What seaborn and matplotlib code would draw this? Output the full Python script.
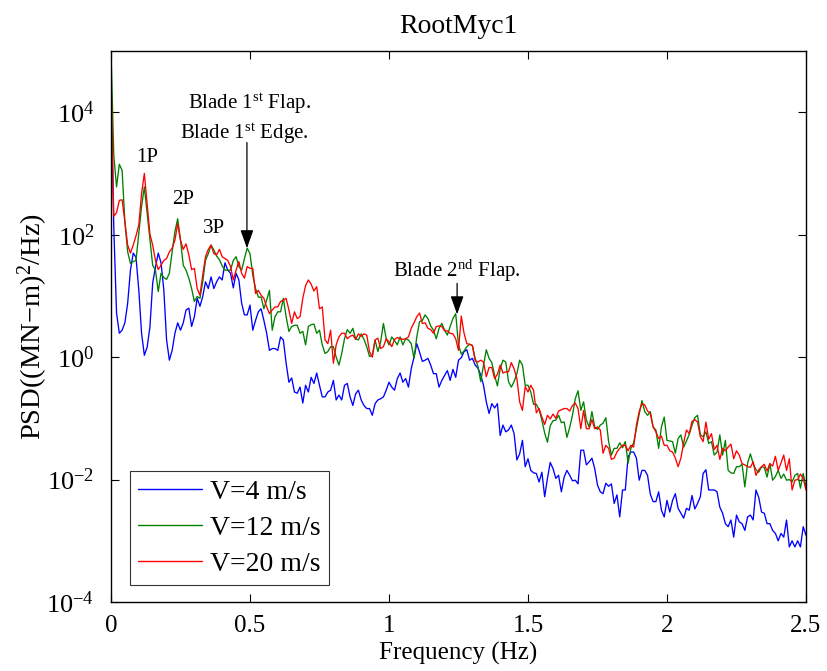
import numpy as np
import pandas as pd
import matplotlib
matplotlib.use("Agg")
import matplotlib.pyplot as plt
from matplotlib.ticker import NullLocator
import seaborn as sns

# Frequency bins of the spectra (Hz)
freq_hz = np.linspace(0.0, 2.5, 251)

# log10 of PSD, (MN-m)^2/Hz, one value per 0.01 Hz bin
psd_v4_log10 = [
    4.42, 2.13, 0.72, 0.39, 0.44, 0.56, 0.88, 1.42, 1.70, 1.63,
    1.10, 0.39, 0.03, 0.16, 0.49, 1.21, 1.47, 1.70, 1.54, 1.10,
    0.28, -0.05, 0.11, 0.39, 0.56, 0.44, 0.56, 0.77, 0.80, 0.50,
    0.66, 0.96, 0.83, 0.99, 1.23, 1.12, 1.31, 1.12, 1.23, 1.31,
    1.26, 1.54, 1.42, 1.37, 1.13, 1.37, 1.26, 0.88, 0.69, 0.69,
    0.85, 0.44, 0.60, 0.74, 0.79, 0.60, 0.39, 0.11, 0.14, 0.14,
    0.11, 0.33, 0.28, -0.10, -0.41, -0.34, -0.57, -0.59, -0.49, -0.75,
    -0.46, -0.57, -0.33, -0.43, -0.26, -0.46, -0.65, -0.65, -0.57, -0.54,
    -0.38, -0.70, -0.62, -0.70, -0.46, -0.43, -0.65, -0.79, -0.60, -0.54,
    -0.70, -0.79, -0.84, -0.84, -0.95, -0.76, -0.70, -0.68, -0.65, -0.54,
    -0.41, -0.49, -0.54, -0.35, -0.26, -0.41, -0.35, -0.49, -0.19, 0.00,
    0.22, 0.08, -0.07, -0.05, -0.02, -0.13, -0.27, -0.27, -0.49, -0.38,
    -0.30, -0.22, -0.38, -0.20, -0.33, -0.05, -0.01, 0.09, 0.12, -0.05,
    -0.02, -0.13, -0.18, -0.29, -0.46, -0.73, -0.92, -0.76, -0.83, -0.76,
    -1.28, -1.11, -1.22, -1.19, -1.11, -1.25, -1.68, -1.58, -1.36, -1.79,
    -1.66, -1.85, -1.89, -1.90, -2.04, -1.88, -2.28, -1.98, -1.72, -1.82,
    -1.98, -1.93, -2.20, -1.96, -1.85, -1.93, -2.02, -2.01, -2.07, -1.52,
    -1.52, -1.76, -1.71, -1.65, -1.82, -2.09, -2.20, -2.23, -2.06, -2.11,
    -2.07, -2.39, -2.25, -2.61, -2.17, -2.17, -1.63, -1.55, -1.55, -1.65,
    -2.01, -1.85, -1.85, -1.93, -2.24, -2.36, -2.36, -2.20, -2.50, -2.61,
    -2.34, -2.53, -2.34, -2.23, -2.47, -2.55, -2.63, -2.47, -2.50, -2.26,
    -2.48, -2.39, -2.28, -1.90, -1.84, -2.17, -2.17, -2.17, -2.20, -2.45,
    -2.55, -2.72, -2.77, -2.66, -2.94, -2.58, -2.69, -2.72, -2.83, -2.61,
    -2.58, -2.66, -2.17, -2.29, -2.53, -2.55, -2.72, -2.72, -2.83, -2.88,
    -3.00, -2.88, -2.94, -2.66, -3.10, -3.00, -3.10, -3.00, -3.10, -2.77,
    -2.91,
]
psd_v12_log10 = [
    5.00, 3.30, 2.78, 3.15, 3.05, 2.21, 1.72, 1.53, 1.56, 1.58,
    2.02, 2.46, 2.78, 2.35, 1.91, 1.50, 1.42, 1.07, 1.37, 1.30,
    1.27, 1.37, 1.72, 2.05, 2.26, 1.91, 1.50, 1.42, 1.29, 1.12,
    0.91, 0.99, 0.96, 1.23, 1.58, 1.69, 1.83, 1.75, 1.65, 1.59,
    1.49, 1.42, 1.42, 1.42, 1.58, 1.64, 1.48, 1.42, 1.61, 1.78,
    1.69, 1.34, 1.12, 0.98, 0.98, 0.79, 0.93, 1.09, 0.44, 0.66,
    0.74, 0.74, 0.96, 0.66, 0.42, 0.50, 0.52, 0.52, 0.39, 0.42,
    0.20, 0.50, 0.53, 0.54, 0.39, 0.44, 0.20, 0.06, 0.09, 0.17,
    0.17, 0.00, -0.13, 0.06, 0.30, 0.45, 0.39, 0.47, 0.30, 0.28,
    0.38, 0.29, 0.17, 0.01, 0.03, 0.28, 0.09, 0.25, 0.55, 0.30,
    0.20, 0.33, 0.27, 0.20, 0.33, 0.20, 0.30, 0.28, 0.22, -0.02,
    0.33, 0.58, 0.60, 0.69, 0.63, 0.51, 0.44, 0.30, 0.47, 0.55,
    0.44, 0.36, 0.50, 0.63, 0.71, 0.20, 0.05, 0.10, 0.17, 0.21,
    0.19, -0.02, -0.15, -0.40, -0.13, 0.12, -0.02, -0.09, -0.30, -0.47,
    -0.19, -0.05, -0.08, -0.40, -0.49, -0.40, -0.27, -0.05, -0.13, -0.46,
    -0.46, -0.57, -0.77, -0.77, -0.86, -1.03, -1.24, -1.39, -1.12, -1.04,
    -1.03, -0.95, -1.07, -1.06, -1.31, -1.15, -0.95, -0.68, -0.55, -0.87,
    -0.73, -1.03, -1.14, -0.89, -1.14, -1.18, -1.11, -1.08, -0.99, -1.38,
    -1.60, -1.49, -1.49, -1.40, -1.48, -1.38, -1.73, -1.49, -1.40, -1.17,
    -0.93, -0.71, -0.89, -0.95, -0.89, -1.14, -1.19, -1.49, -1.14, -0.98,
    -1.36, -1.37, -1.38, -1.57, -1.33, -1.27, -1.47, -1.37, -1.26, -1.11,
    -0.99, -0.95, -1.27, -1.30, -1.22, -1.41, -1.38, -1.60, -1.55, -1.27,
    -1.60, -1.36, -1.85, -1.89, -1.90, -1.79, -1.79, -1.75, -2.12, -1.73,
    -1.58, -1.74, -1.84, -1.88, -1.79, -1.80, -1.96, -1.74, -2.01, -1.95,
    -1.85, -1.98, -1.91, -2.01, -2.00, -2.04, -1.93, -1.90, -2.14, -1.90,
    -2.12,
]
psd_v20_log10 = [
    4.61, 2.30, 2.36, 2.56, 2.57, 2.21, 1.83, 1.70, 1.83, 1.98,
    2.16, 2.67, 3.00, 2.51, 2.01, 1.83, 1.58, 1.43, 1.50, 1.58,
    1.61, 1.72, 1.78, 1.91, 2.18, 1.91, 1.76, 1.85, 1.67, 1.43,
    1.45, 1.12, 1.01, 1.34, 1.64, 1.76, 1.83, 1.69, 1.67, 1.76,
    1.64, 1.61, 1.58, 1.48, 1.26, 1.42, 1.56, 1.37, 1.29, 1.48,
    1.45, 1.45, 1.04, 1.09, 1.01, 0.96, 0.82, 0.71, 0.77, 0.82,
    0.82, 0.91, 0.93, 0.96, 0.77, 0.55, 0.74, 0.63, 0.66, 0.96,
    1.17, 1.26, 1.19, 1.08, 1.15, 0.79, 0.82, 0.28, 0.22, 0.44,
    -0.10, 0.20, 0.33, 0.39, 0.39, 0.30, 0.34, 0.36, 0.29, 0.38,
    0.34, 0.38, 0.36, 0.09, 0.00, 0.28, 0.31, 0.14, 0.17, 0.30,
    0.25, 0.17, 0.29, 0.32, 0.30, 0.29, 0.30, 0.33, 0.47, 0.56,
    0.66, 0.72, 0.55, 0.56, 0.47, 0.45, 0.39, 0.50, 0.51, 0.50,
    0.43, 0.43, 0.39, 0.38, 0.30, 0.11, 0.67, 0.39, 0.22, 0.21,
    0.19, -0.06, -0.08, -0.05, -0.08, -0.32, -0.17, -0.17, -0.35, -0.28,
    -0.13, -0.26, -0.24, -0.24, -0.09, -0.19, -0.35, -0.73, -0.87, -0.48,
    -0.57, -0.46, -0.54, -0.91, -0.84, -0.98, -1.10, -0.95, -1.01, -0.93,
    -1.00, -0.88, -0.86, -0.84, -0.84, -0.88, -0.79, -0.75, -0.84, -1.17,
    -0.87, -1.17, -1.17, -1.02, -1.17, -1.14, -1.19, -1.57, -1.44, -1.49,
    -1.67, -1.65, -1.55, -1.49, -1.44, -1.44, -1.53, -1.44, -1.47, -1.11,
    -0.89, -0.76, -0.78, -0.88, -0.92, -1.14, -1.22, -1.33, -1.29, -1.44,
    -1.44, -1.53, -1.55, -1.65, -1.79, -1.65, -1.40, -1.19, -1.25, -1.05,
    -1.02, -1.06, -1.30, -1.38, -1.06, -1.34, -1.25, -1.51, -1.44, -1.67,
    -1.49, -1.53, -1.47, -1.42, -1.66, -1.53, -1.60, -1.74, -1.76, -1.79,
    -1.80, -1.71, -1.93, -1.84, -1.79, -1.75, -1.86, -1.74, -1.78, -1.62,
    -1.85, -1.73, -1.60, -1.85, -1.66, -2.17, -2.01, -2.00, -1.91, -1.98,
    -2.17,
]

series_labels = ["V=4 m/s", "V=12 m/s", "V=20 m/s"]
series_colors = ["#0000ff", "#008000", "#ff0000"]

x_ticks = [0, 0.5, 1, 1.5, 2, 2.5]
x_tick_labels = ["0", "0.5", "1", "1.5", "2", "2.5"]
y_ticks = [1e-4, 1e-2, 1e0, 1e2, 1e4]
y_tick_labels = [r"$10^{-4}$", r"$10^{-2}$", r"$10^{0}$", r"$10^{2}$", r"$10^{4}$"]

sns.set_theme(style="ticks")
plt.rcParams["font.family"] = ["Liberation Serif", "DejaVu Serif"]
plt.rcParams["mathtext.fontset"] = "custom"
plt.rcParams["mathtext.rm"] = "Liberation Serif"
plt.rcParams["mathtext.it"] = "Liberation Serif:italic"
plt.rcParams["mathtext.bf"] = "Liberation Serif:bold"
plt.rcParams["text.color"] = "black"
plt.rcParams["axes.labelcolor"] = "black"
plt.rcParams["xtick.color"] = "black"
plt.rcParams["ytick.color"] = "black"

frames = []
for vals, lab in zip([psd_v4_log10, psd_v12_log10, psd_v20_log10], series_labels):
    frames.append(pd.DataFrame({"freq": freq_hz,
                                "psd": np.power(10.0, np.asarray(vals)),
                                "series": lab}))
df = pd.concat(frames, ignore_index=True)

fig = plt.figure(figsize=(8.27, 6.71), dpi=100)
ax = fig.add_axes([0.1342, 0.1028, 0.8404, 0.8212])

sns.lineplot(data=df, x="freq", y="psd", hue="series", hue_order=series_labels,
             palette=dict(zip(series_labels, series_colors)),
             estimator=None, sort=False, linewidth=0.95, ax=ax)

ax.set_yscale("log")
ax.set_xlim(0, 2.5)
ax.set_ylim(1e-4, 1e5)
ax.set_xticks(x_ticks)
ax.set_xticklabels(x_tick_labels)
ax.set_yticks(y_ticks)
ax.set_yticklabels(y_tick_labels)
ax.yaxis.set_minor_locator(NullLocator())
ax.xaxis.set_minor_locator(NullLocator())
ax.tick_params(axis="both", which="major", direction="in", length=6, width=0.8,
               top=True, right=True, labelsize=18, pad=9)
ax.tick_params(axis="y", labelsize=19, pad=12)

for sp in ax.spines.values():
    sp.set_visible(True)
    sp.set_color("black")
    sp.set_linewidth(1.0)

ax.set_xlabel("Frequency (Hz)", fontsize=18, labelpad=4)
ax.set_ylabel(r"PSD((MN$-$m)$^2$/Hz)", fontsize=20.5)
ax.yaxis.set_label_coords(-0.088, 0.5)
ax.set_title("RootMyc1", fontsize=20, pad=13)

leg = ax.legend(loc="lower left", bbox_to_anchor=(0.027, 0.031), borderaxespad=0,
                fontsize=20, frameon=True, fancybox=False, edgecolor="black",
                handlelength=2.3, handletextpad=0.3, labelspacing=0.38,
                borderpad=0.3, title=None)
leg.get_frame().set_linewidth(0.8)
for line in leg.get_lines():
    line.set_linewidth(1.0)

# Harmonic and blade-mode labels
ann_kw = dict(fontsize=15, ha="center", va="center", color="black")
ax.text(0.13, 1.8e3, "1P", **ann_kw)
ax.text(0.26, 3.8e2, "2P", **ann_kw)
ax.text(0.37, 1.25e2, "3P", **ann_kw)
ax.text(0.50, 1.4e4, r"Blade 1$^{\mathrm{st}}$ Flap.", **ann_kw)
ax.text(0.48, 4.4e3, r"Blade 1$^{\mathrm{st}}$ Edge.", **ann_kw)
ax.text(1.245, 2.6e1, r"Blade 2$^{\mathrm{nd}}$ Flap.", **ann_kw)

arrow_kw = dict(arrowstyle="-|>,head_length=0.7,head_width=0.25", color="black",
                lw=0.9, mutation_scale=16, shrinkA=0, shrinkB=0)
ax.annotate("", xy=(0.489, 60), xytext=(0.489, 3.2e3), arrowprops=arrow_kw)
ax.annotate("", xy=(1.245, 5.0), xytext=(1.245, 16), arrowprops=arrow_kw)

fig.savefig("out.png", dpi=100)
